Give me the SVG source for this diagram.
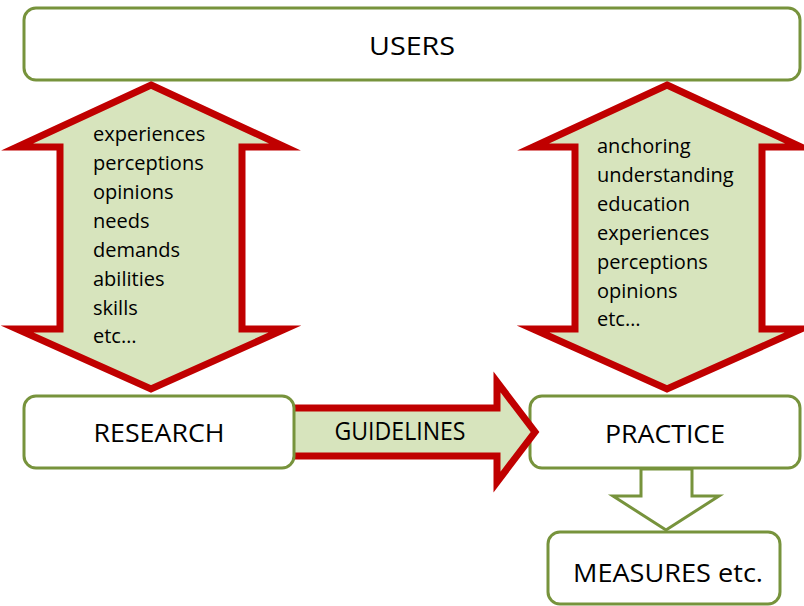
<svg xmlns="http://www.w3.org/2000/svg" width="804" height="606" viewBox="0 0 804 606">
<style>
.box{fill:#ffffff;stroke:#77933C;stroke-width:3}
.red{fill:#D7E4BD;stroke:#C00000;stroke-width:7;stroke-linejoin:miter;stroke-miterlimit:10}
.grn{fill:#ffffff;stroke:#77933C;stroke-width:3;stroke-linejoin:miter}
.lbl{font-family:"Open Sans","Liberation Sans",sans-serif;font-size:26px;fill:#000;text-anchor:middle}
.lst{font-family:"Open Sans","Liberation Sans",sans-serif;font-size:20px;fill:#000}
</style>
<rect width="804" height="606" fill="#ffffff"/>
<g id="node-users">
  <rect class="box" x="24" y="8" width="776" height="72" rx="12"/>
  <text class="lbl" x="412" y="55" textLength="86" lengthAdjust="spacingAndGlyphs">USERS</text>
</g>
<g id="node-practice">
  <rect class="box" x="530" y="396" width="270" height="72" rx="12"/>
  <text class="lbl" x="665" y="443" textLength="120" lengthAdjust="spacingAndGlyphs">PRACTICE</text>
</g>
<g id="node-measures">
  <rect class="box" x="548" y="532" width="232" height="72" rx="12"/>
  <text class="lbl" x="668" y="582" textLength="190" lengthAdjust="spacingAndGlyphs">MEASURES etc.</text>
</g>
<g id="connectors">
  <g id="arrow-left">
    <polygon class="red" points="151,85 285,147 242,147 242,329 285,329 151,389 17,329 60,329 60,147 17,147"/>
    <text class="lst" x="93" y="141">experiences</text>
    <text class="lst" x="93" y="170">perceptions</text>
    <text class="lst" x="93" y="199">opinions</text>
    <text class="lst" x="93" y="228">needs</text>
    <text class="lst" x="93" y="257">demands</text>
    <text class="lst" x="93" y="286">abilities</text>
    <text class="lst" x="93" y="315">skills</text>
    <text class="lst" x="93" y="343">etc…</text>
  </g>
  <g id="arrow-right">
    <polygon class="red" points="667,85 801,147 762,147 762,329 801,329 667,389 533,329 575,329 575,147 533,147"/>
    <text class="lst" x="597" y="153">anchoring</text>
    <text class="lst" x="597" y="182">understanding</text>
    <text class="lst" x="597" y="211">education</text>
    <text class="lst" x="597" y="240">experiences</text>
    <text class="lst" x="597" y="269">perceptions</text>
    <text class="lst" x="597" y="298">opinions</text>
    <text class="lst" x="597" y="326">etc…</text>
  </g>
  <g id="arrow-guidelines">
    <polygon class="red" points="290,408 497,408 497,382 535,432 497,482 497,456 290,456"/>
    <text class="lbl" x="400" y="440" font-size="22" textLength="131" lengthAdjust="spacingAndGlyphs">GUIDELINES</text>
  </g>
  <g id="arrow-measures">
    <polygon class="grn" points="641,469 692,469 692,496 719,496 666,530 613,496 641,496"/>
  </g>
</g>
<g id="node-research">
  <rect class="box" x="24" y="396" width="270" height="72" rx="12"/>
  <text class="lbl" x="159" y="442" textLength="131" lengthAdjust="spacingAndGlyphs">RESEARCH</text>
</g>
</svg>
